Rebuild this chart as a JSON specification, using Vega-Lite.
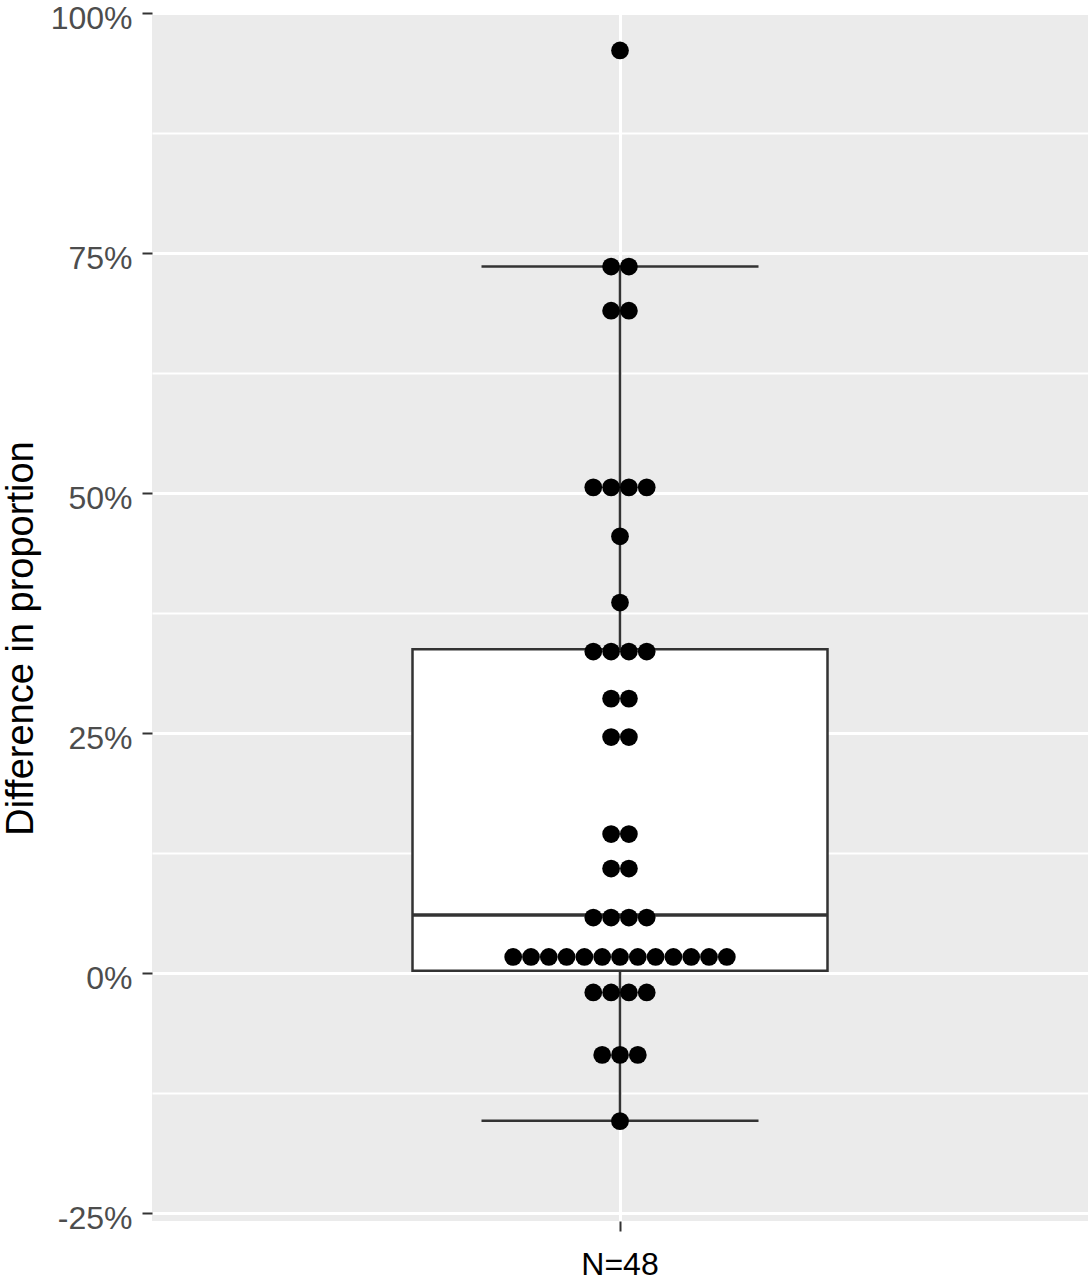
{
  "$schema": "https://vega.github.io/schema/vega-lite/v6.json",
  "width": 936,
  "height": 1208,
  "autosize": "none",
  "padding": {"left": 152, "top": 13, "right": 0, "bottom": 59},
  "datasets": {
    "dots": [
      {"g": "N=48", "v": 0.961},
      {"g": "N=48", "v": 0.736}, {"g": "N=48", "v": 0.736},
      {"g": "N=48", "v": 0.690}, {"g": "N=48", "v": 0.690},
      {"g": "N=48", "v": 0.506}, {"g": "N=48", "v": 0.506}, {"g": "N=48", "v": 0.506}, {"g": "N=48", "v": 0.506},
      {"g": "N=48", "v": 0.455},
      {"g": "N=48", "v": 0.386},
      {"g": "N=48", "v": 0.335}, {"g": "N=48", "v": 0.335}, {"g": "N=48", "v": 0.335}, {"g": "N=48", "v": 0.335},
      {"g": "N=48", "v": 0.286}, {"g": "N=48", "v": 0.286},
      {"g": "N=48", "v": 0.246}, {"g": "N=48", "v": 0.246},
      {"g": "N=48", "v": 0.145}, {"g": "N=48", "v": 0.145},
      {"g": "N=48", "v": 0.109}, {"g": "N=48", "v": 0.109},
      {"g": "N=48", "v": 0.058}, {"g": "N=48", "v": 0.058}, {"g": "N=48", "v": 0.058}, {"g": "N=48", "v": 0.058},
      {"g": "N=48", "v": 0.017}, {"g": "N=48", "v": 0.017}, {"g": "N=48", "v": 0.017}, {"g": "N=48", "v": 0.017},
      {"g": "N=48", "v": 0.017}, {"g": "N=48", "v": 0.017}, {"g": "N=48", "v": 0.017}, {"g": "N=48", "v": 0.017},
      {"g": "N=48", "v": 0.017}, {"g": "N=48", "v": 0.017}, {"g": "N=48", "v": 0.017}, {"g": "N=48", "v": 0.017},
      {"g": "N=48", "v": 0.017},
      {"g": "N=48", "v": -0.020}, {"g": "N=48", "v": -0.020}, {"g": "N=48", "v": -0.020}, {"g": "N=48", "v": -0.020},
      {"g": "N=48", "v": -0.085}, {"g": "N=48", "v": -0.085}, {"g": "N=48", "v": -0.085},
      {"g": "N=48", "v": -0.154}
    ],
    "box": [
      {"g": "N=48", "lower": -0.1535, "q1": 0.0027, "median": 0.0607, "q3": 0.3375, "upper": 0.736}
    ]
  },
  "encoding": {
    "x": {
      "field": "g",
      "type": "nominal",
      "title": null,
      "scale": {"paddingInner": 0, "paddingOuter": 0},
      "axis": {
        "labelAngle": 0,
        "labelFontSize": 32,
        "labelColor": "#000000",
        "labelPadding": 18,
        "tickColor": "#333333",
        "tickWidth": 2,
        "tickSize": 10,
        "domain": false,
        "grid": true,
        "gridColor": "#FFFFFF",
        "gridWidth": 3
      }
    }
  },
  "layer": [
    {
      "data": {"name": "box"},
      "mark": {"type": "rule", "color": "#333333", "strokeWidth": 2.5, "opacity": 1},
      "encoding": {
        "y": {
          "field": "lower",
          "type": "quantitative",
          "title": "Difference in proportion",
          "scale": {"domain": [-0.258, 1.0], "nice": false, "zero": false},
          "axis": {
            "values": [-0.25, -0.125, 0, 0.125, 0.25, 0.375, 0.5, 0.625, 0.75, 0.875, 1],
            "labelExpr": "abs(datum.value * 4 - round(datum.value * 4)) < 0.001 ? round(datum.value * 100) + '%' : ''",
            "labelFontSize": 32,
            "labelColor": "#4D4D4D",
            "labelPadding": 10,
            "labelOffset": 5,
            "tickColor": "#333333",
            "tickWidth": 2,
            "tickSize": 10,
            "tickOpacity": {"condition": {"test": "abs(datum.value * 4 - round(datum.value * 4)) < 0.001", "value": 1}, "value": 0},
            "domain": false,
            "grid": true,
            "gridColor": "#FFFFFF",
            "gridWidth": {"condition": {"test": "abs(datum.value * 4 - round(datum.value * 4)) < 0.001", "value": 3}, "value": 2},
            "titleFontSize": 38,
            "titleFontWeight": "normal",
            "titleColor": "#000000",
            "titleAngle": -90,
            "titleAlign": "center",
            "titleBaseline": "alphabetic",
            "titleX": -120,
            "titleY": 625
          }
        },
        "y2": {"field": "upper"}
      }
    },
    {
      "data": {"name": "box"},
      "mark": {"type": "tick", "color": "#333333", "size": 277, "thickness": 2.5, "opacity": 1},
      "encoding": {"y": {"field": "lower", "type": "quantitative"}}
    },
    {
      "data": {"name": "box"},
      "mark": {"type": "tick", "color": "#333333", "size": 277, "thickness": 2.5, "opacity": 1},
      "encoding": {"y": {"field": "upper", "type": "quantitative"}}
    },
    {
      "data": {"name": "box"},
      "mark": {"type": "bar", "size": 415, "fill": "#FFFFFF", "stroke": "#333333", "strokeWidth": 2.5, "opacity": 1},
      "encoding": {
        "y": {"field": "q1", "type": "quantitative"},
        "y2": {"field": "q3"}
      }
    },
    {
      "data": {"name": "box"},
      "mark": {"type": "tick", "color": "#333333", "size": 415, "thickness": 3.5, "opacity": 1},
      "encoding": {"y": {"field": "median", "type": "quantitative"}}
    },
    {
      "data": {"name": "dots"},
      "transform": [
        {
          "window": [{"op": "row_number", "as": "k"}, {"op": "count", "as": "n"}],
          "groupby": ["v"],
          "frame": [null, null]
        },
        {"calculate": "datum.k - (datum.n + 1) / 2", "as": "off"}
      ],
      "mark": {"type": "point", "filled": true, "color": "#000000", "opacity": 1, "size": 315},
      "encoding": {
        "y": {"field": "v", "type": "quantitative"},
        "xOffset": {
          "field": "off",
          "type": "quantitative",
          "scale": {"domain": [-26.29, 26.29], "range": [0, 936]}
        }
      }
    }
  ],
  "config": {
    "font": "Liberation Sans",
    "view": {"stroke": null, "fill": "#EBEBEB"}
  }
}
